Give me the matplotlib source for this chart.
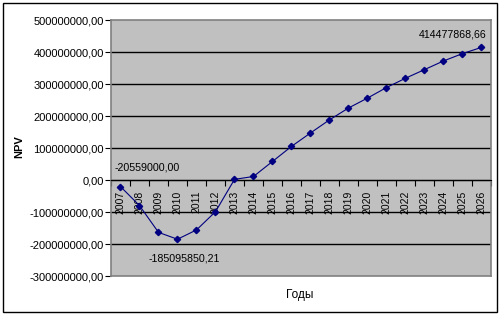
import matplotlib.pyplot as plt
from matplotlib.patches import Rectangle
from matplotlib.ticker import FuncFormatter, FixedLocator
import numpy as np

years = [str(y) for y in range(2007, 2027)]
npv = [-20559000.00, -80000000, -163700000, -185095850.21, -156000000,
       -99000000, 2000000, 11000000, 58000000, 105000000,
       147000000, 188000000, 225000000, 256000000, 289000000,
       318000000, 345000000, 372000000, 395000000, 414477868.66]

plt.rcParams['font.family'] = ['Liberation Sans', 'DejaVu Sans']

fig = plt.figure(figsize=(5.02, 3.17), dpi=100)
fig.patch.set_facecolor('white')
# рамка вокруг диаграммы
fig.patches.append(Rectangle((3 / 502, 1 - 312 / 317), 494 / 502, 309 / 317,
                             transform=fig.transFigure, fill=False,
                             edgecolor='black', lw=1))

ax = fig.add_axes([111 / 502, 1 - 276 / 317, 380 / 502, 256 / 317])
ax.set_facecolor('#C0C0C0')

x = np.arange(len(years))
ax.plot(x, npv, color='#000080', lw=0.8, marker='D', markersize=3.2,
        markerfacecolor='#000080', markeredgecolor='#000080', zorder=4)

ax.set_xlim(-0.5, len(years) - 0.5)
ax.set_ylim(-300e6, 500e6)
ax.set_yticks(np.arange(-300e6, 500e6 + 1, 100e6))
ax.yaxis.set_major_formatter(FuncFormatter(lambda v, p: f'{v:.2f}'.replace('.', ',')))
ax.tick_params(axis='y', direction='out', length=4, width=0.8, labelsize=8,
               colors='black', pad=1)

for g in np.arange(-200e6, 500e6, 100e6):
    ax.axhline(g, color='black', lw=1, zorder=1)
ax.axhline(-300e6, color='#808080', lw=1.2, zorder=2, clip_on=False)

ax.spines['bottom'].set_position(('data', 0))
ax.spines['bottom'].set_color('black')
ax.spines['bottom'].set_zorder(3)
for s in ['left', 'top', 'right']:
    ax.spines[s].set_color('#808080')
    ax.spines[s].set_linewidth(1.2)

ax.xaxis.set_major_locator(FixedLocator(np.arange(-0.5, len(years), 1)))
ax.xaxis.set_major_formatter(FuncFormatter(lambda v, p: ''))
ax.xaxis.set_minor_locator(FixedLocator(x))
ax.set_xticklabels(years, minor=True, rotation=90, fontsize=7.5)
ax.tick_params(axis='x', which='major', direction='out', length=4, width=0.8)
ax.tick_params(axis='x', which='minor', length=0, pad=7.5)

k = 0.72
ax.annotate('-20559000,00', (x[0], npv[0]), xytext=(-5.5 * k, 19 * k),
            textcoords='offset points', ha='left', va='center', fontsize=7.7)
ax.annotate('-185095850,21', (x[3], npv[3]), xytext=(7 * k, -19 * k),
            textcoords='offset points', ha='center', va='center', fontsize=7.7)
ax.annotate('414477868,66', (x[-1], npv[-1]), xytext=(5.5 * k, 12.5 * k),
            textcoords='offset points', ha='right', va='center', fontsize=7.7)

fig.text(19 / 502, 1 - 147 / 317, 'NPV', rotation=90, ha='center', va='center',
         fontsize=8, fontweight='bold')
fig.text(300 / 502, 1 - 295 / 317, 'Годы', ha='center', va='center',
         fontsize=8.5)

fig.savefig('out.png', dpi=100)
